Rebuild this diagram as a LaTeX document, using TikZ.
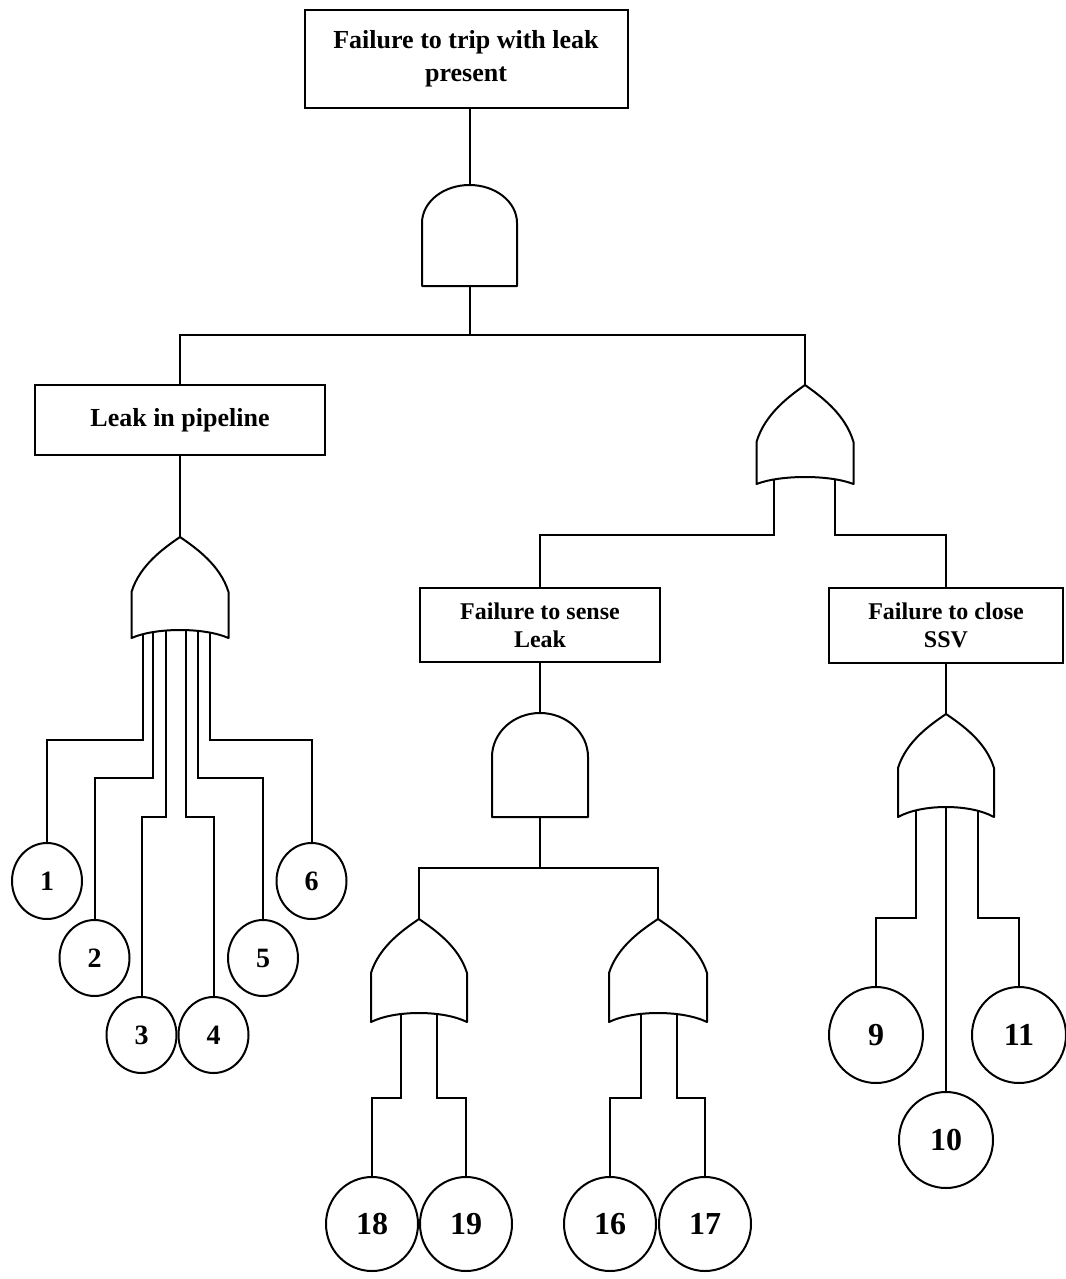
\documentclass[tikz,border=0pt]{standalone}
\usepackage{fontspec}
\setmainfont{Liberation Serif}
\usetikzlibrary{shapes.geometric}

% text sizes for the event boxes and the basic events
\newcommand\bigboxfont{\bfseries\fontsize{26}{33}\selectfont}
\newcommand\smallboxfont{\bfseries\fontsize{24}{28}\selectfont}
\newcommand\smallevfont{\bfseries\fontsize{28}{30}\selectfont}
\newcommand\bigevfont{\bfseries\fontsize{32}{34}\selectfont}

% OR gate: #1 centre x, #2 apex y, #3 y where the sides turn straight,
% #4 y of the bottom corners, #5 y of the bottom middle, #6 half width
\newcommand\orgatepath[6]{%
  \draw[gate] (#1,#2)
    .. controls ({#1-0.33*#6},{#2+0.2*(#3-#2)}) and ({#1-0.83*#6},{#2+0.51*(#3-#2)}) .. ({#1-#6},#3)
    -- ({#1-#6},#4)
    .. controls ({#1-0.5*#6},{(4*#5-#4)/3}) and ({#1+0.5*#6},{(4*#5-#4)/3}) .. ({#1+#6},#4)
    -- ({#1+#6},#3)
    .. controls ({#1+0.83*#6},{#2+0.51*(#3-#2)}) and ({#1+0.33*#6},{#2+0.2*(#3-#2)}) .. (#1,#2)
    -- cycle;}

% AND gate: #1 centre x, #2 top y, #3 y where the dome ends, #4 bottom y, #5 half width
\newcommand\andgatepath[5]{%
  \draw[gate] ({#1-#5},#4) -- ({#1-#5},#3)
    .. controls ({#1-#5},{#3-0.552*(#3-#2)}) and ({#1-0.552*#5},#2) .. (#1,#2)
    .. controls ({#1+0.552*#5},#2) and ({#1+#5},{#3-0.552*(#3-#2)}) .. ({#1+#5},#3)
    -- ({#1+#5},#4) -- cycle;}

\tikzset{
  wire/.style={line width=2pt, line cap=round},
  gate/.style={draw, line width=2pt, fill=white, line join=round},
  evbox/.style={draw, line width=2pt, fill=white, rectangle, inner sep=0pt, align=center},
  basic/.style={draw, line width=2pt, fill=white, ellipse, inner sep=0pt},
  smallev/.style={basic, minimum width=70pt, minimum height=76pt, font=\smallevfont},
  bigev/.style={basic, minimum width=92pt, minimum height=94pt, font=\bigevfont},
  sideev/.style={basic, minimum width=94pt, minimum height=96pt, font=\bigevfont},
}

\begin{document}
\begin{tikzpicture}[x=1pt, y=-1pt]
\useasboundingbox (0,0) rectangle (1065,1279);

% ---------- events ----------
\node[evbox, minimum width=323pt, minimum height=98pt, font=\bigboxfont] (top) at (466,59)
  {Failure to trip with leak\\present};
\node[evbox, minimum width=290pt, minimum height=70pt, font=\bigboxfont] (leak) at (180,420)
  {Leak in pipeline};
\node[evbox, minimum width=240pt, minimum height=74pt, font=\smallboxfont] (sense) at (540,625)
  {Failure to sense\\Leak};
\node[evbox, minimum width=234pt, minimum height=75pt, font=\smallboxfont] (ssv) at (946,625)
  {Failure to close\\SSV};

% basic events
\node[smallev] (c1) at (47,881) {1};
\node[smallev] (c2) at (94.5,958) {2};
\node[smallev] (c3) at (141.5,1035) {3};
\node[smallev] (c4) at (213.5,1035) {4};
\node[smallev] (c5) at (263,958) {5};
\node[smallev] (c6) at (311.5,881) {6};

\node[bigev] (c18) at (372,1224) {18};
\node[bigev] (c19) at (466,1224) {19};
\node[bigev] (c16) at (610,1224) {16};
\node[bigev] (c17) at (705,1224) {17};

\node[sideev] (c9) at (876,1035) {9};
\node[sideev] (c10) at (946,1140) {10};
\node[sideev] (c11) at (1019,1035) {11};

% ---------- gate terminals ----------
\coordinate (a1top) at (469.5,185);  \coordinate (a1bot) at (469.5,286);
\coordinate (o1top) at (805,385);
\coordinate (o1i1) at (774,477);     \coordinate (o1i2) at (835,477);
\coordinate (o2top) at (180,537);
\coordinate (o2i1) at (143,630);     \coordinate (o2i2) at (153,630);
\coordinate (o2i3) at (166,630);     \coordinate (o2i4) at (186,630);
\coordinate (o2i5) at (198,630);     \coordinate (o2i6) at (210,630);
\coordinate (a2top) at (540,713);    \coordinate (a2bot) at (540,817);
\coordinate (o3top) at (419,919);
\coordinate (o3i1) at (401,1013);    \coordinate (o3i2) at (437,1013);
\coordinate (o4top) at (658,919);
\coordinate (o4i1) at (641,1013);    \coordinate (o4i2) at (677,1013);
\coordinate (o5top) at (946,714);
\coordinate (o5i1) at (916,807);     \coordinate (o5i2) at (946,807);
\coordinate (o5i3) at (978,807);
\coordinate (bar1) at (469.5,335);
\coordinate (bar2) at (540,868);

% ---------- connectors ----------
\draw[wire] (top.south -| a1top) -- (a1top);
\draw[wire] (a1bot) -- (bar1);
\draw[wire] (leak.north) |- (bar1) -| (o1top);

\draw[wire] (leak.south) -- (o2top);
\draw[wire] (o2i1) -- (o2i1 |- 0,740) -| (c1.north);
\draw[wire] (o2i2) -- (o2i2 |- 0,778) -| (c2.north);
\draw[wire] (o2i3) -- (o2i3 |- 0,817) -| (c3.north);
\draw[wire] (o2i4) -- (o2i4 |- 0,817) -| (c4.north);
\draw[wire] (o2i5) -- (o2i5 |- 0,778) -| (c5.north);
\draw[wire] (o2i6) -- (o2i6 |- 0,740) -| (c6.north);

\draw[wire] (o1i1) -- (o1i1 |- 0,535) -| (sense.north);
\draw[wire] (o1i2) -- (o1i2 |- 0,535) -| (ssv.north);

\draw[wire] (sense.south) -- (a2top);
\draw[wire] (a2bot) -- (bar2);
\draw[wire] (o3top) |- (bar2) -| (o4top);
\draw[wire] (o3i1) -- (o3i1 |- 0,1098) -| (c18.north);
\draw[wire] (o3i2) -- (o3i2 |- 0,1098) -| (c19.north);
\draw[wire] (o4i1) -- (o4i1 |- 0,1098) -| (c16.north);
\draw[wire] (o4i2) -- (o4i2 |- 0,1098) -| (c17.north);

\draw[wire] (ssv.south) -- (o5top);
\draw[wire] (o5i1) -- (o5i1 |- 0,918) -| (c9.north);
\draw[wire] (o5i2) -- (c10.north);
\draw[wire] (o5i3) -- (o5i3 |- 0,918) -| (c11.north);

% ---------- gates ----------
\andgatepath{469.5}{185}{223}{286}{47.5}
\orgatepath{805}{385}{442}{484}{477}{48.5}
\orgatepath{180}{537}{592}{638}{630}{48.5}
\andgatepath{540}{713}{757}{817}{48}
\orgatepath{419}{919}{973}{1022}{1013}{48}
\orgatepath{658}{919}{973}{1022}{1013}{49}
\orgatepath{946}{714}{768}{817}{807}{48}

\end{tikzpicture}
\end{document}
